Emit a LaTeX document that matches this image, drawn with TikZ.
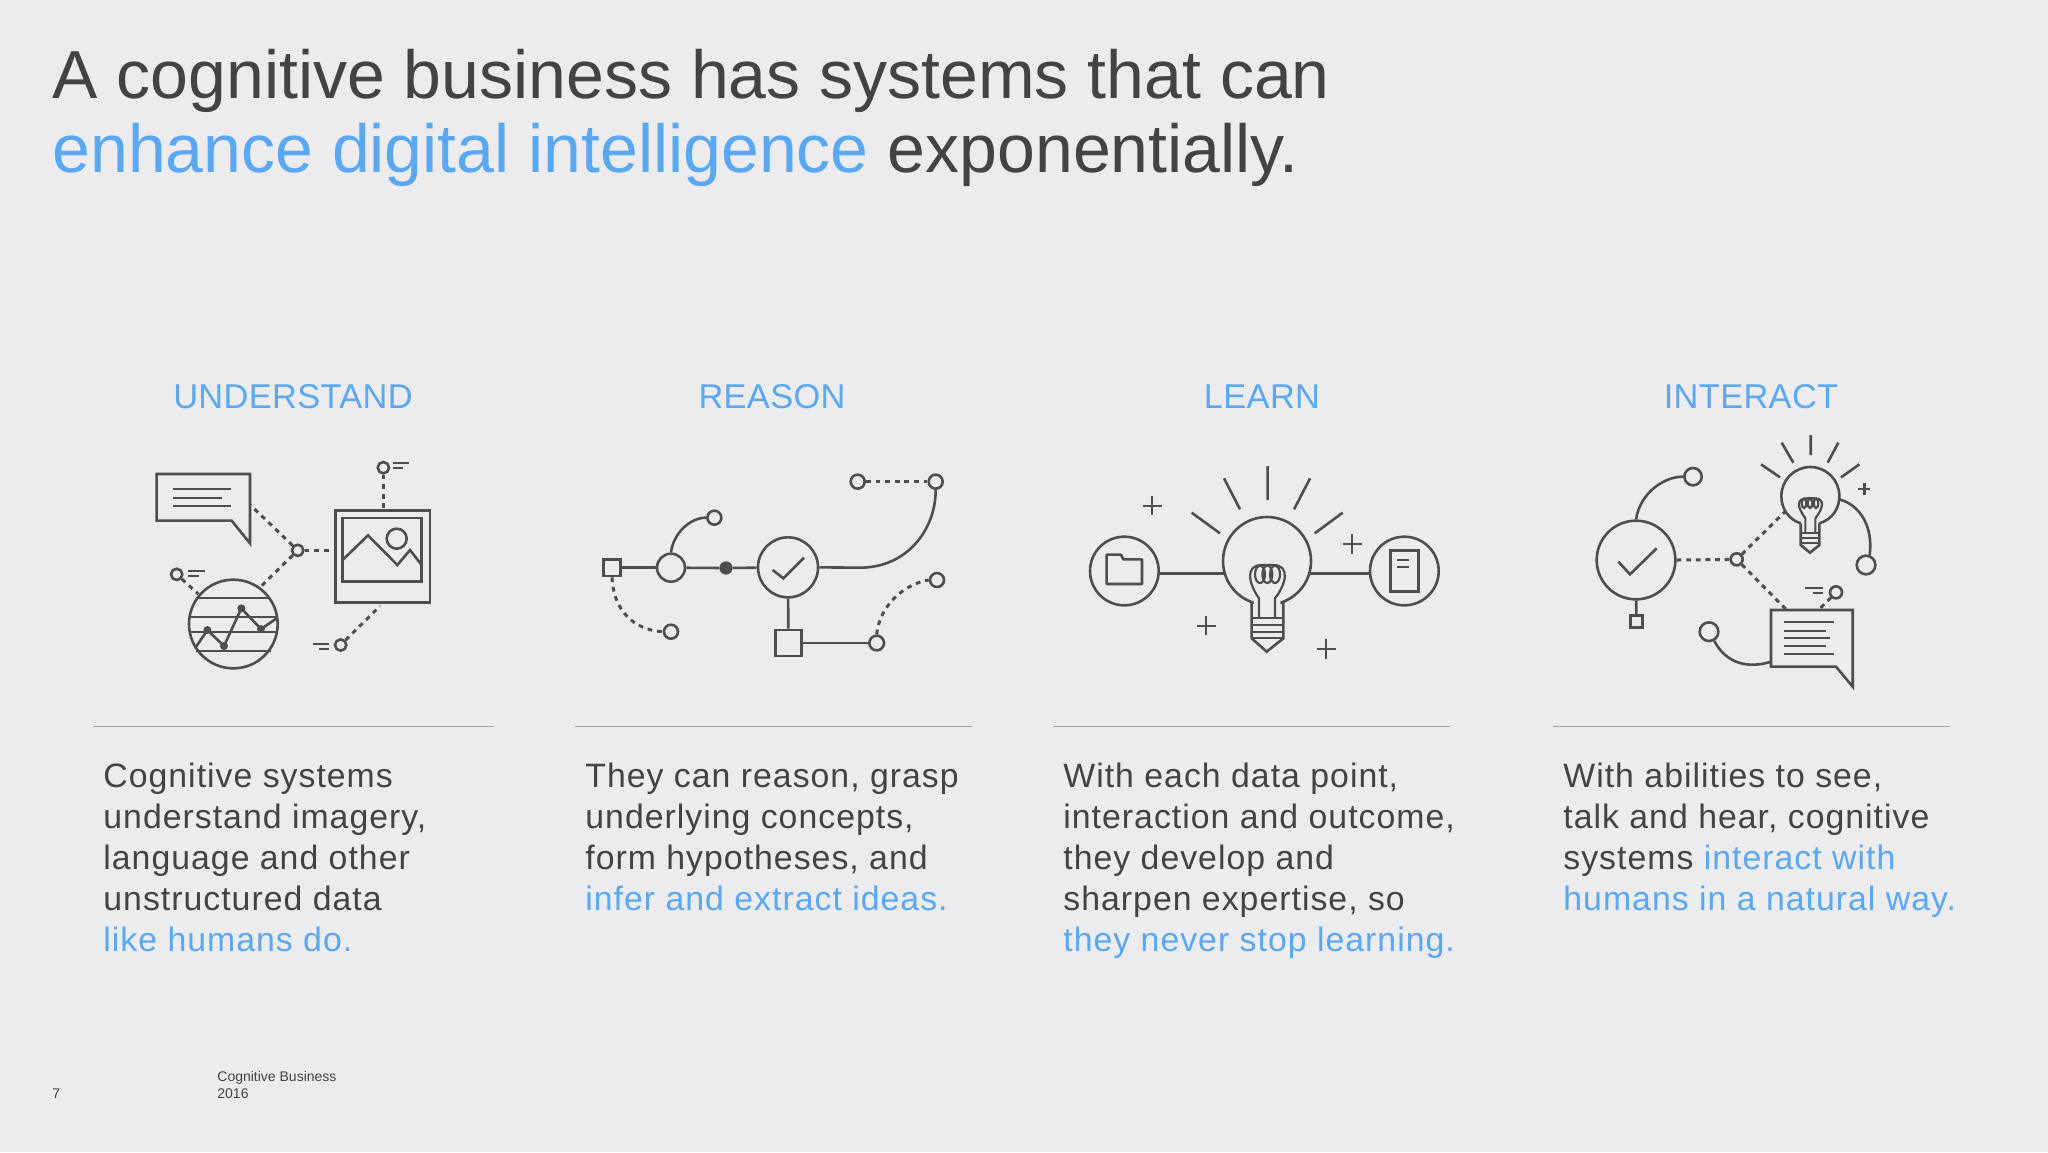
\documentclass[tikz,border=0pt]{standalone}
\usepackage{fontspec}
\setmainfont{Liberation Sans}
\newfontfamily\bodyfont[LetterSpace=3]{Liberation Sans}
\newfontfamily\headfont[LetterSpace=1]{Liberation Sans}
\definecolor{bgc}{HTML}{ECEBEE}
\definecolor{ink}{HTML}{434346}
\definecolor{blu}{HTML}{5AA8F2}
\definecolor{icn}{HTML}{4E4E50}
\definecolor{rul}{HTML}{A2A2A4}
\tikzset{
  titletext/.style={anchor=base west,inner sep=0pt,font=\fontsize{34}{39}\selectfont,text=ink},
  headtext/.style={anchor=center,inner sep=0pt,font=\headfont\fontsize{17.2}{21}\selectfont,text=blu},
  bodytext/.style={anchor=base west,inner sep=0pt,font=\bodyfont\fontsize{16.9}{20.4}\selectfont,text=ink,align=left},
  foottext/.style={anchor=base west,inner sep=0pt,font=\fontsize{7}{8.5}\selectfont,text=ink,align=left},
  iconline/.style={draw=icn,line width=1.3pt},
  dashline/.style={draw=icn,line width=1.5pt,dash pattern=on 2.4pt off 2.4pt},
  thinline/.style={draw=icn,line width=1.1pt},
  ring/.style={circle,draw=icn,line width=1.3pt,inner sep=0pt,minimum size=#1*.16667pt},
  dotc/.style={circle,fill=icn,draw=none,inner sep=0pt,minimum size=#1*.16667pt},
  rulerline/.style={draw=rul,line width=.8pt},
  zoomed/.style={shift={#1},x=.16667pt,y=-.16667pt},
}
\begin{document}
\begin{tikzpicture}[x=.5pt,y=-.5pt]
\fill[bgc] (0,0) rectangle (2048,1152);
\useasboundingbox (0,0) rectangle (2048,1152);
\node[titletext] (t1) at (52,98) {A cognitive business has systems that can};
\node[titletext] (t2) at (52,172) {\textcolor{blu}{enhance digital intelligence} exponentially.};
\node[headtext] (h1) at (293,397) {UNDERSTAND};
\node[headtext] (h2) at (772,397) {REASON};
\node[headtext] (h3) at (1262,397) {LEARN};
\node[headtext] (h4) at (1751,397) {INTERACT};
\draw[rulerline] (93,726.5) -- (494,726.5);
\draw[rulerline] (575,726.5) -- (972,726.5);
\draw[rulerline] (1053,726.5) -- (1450,726.5);
\draw[rulerline] (1553,726.5) -- (1950,726.5);
\node[bodytext] (b1) at (103,951) {Cognitive systems\\understand imagery,\\language and other\\unstructured data\\\textcolor{blu}{like humans do.}};
\node[bodytext] (b2) at (585,910) {They can reason, grasp\\underlying concepts,\\form hypotheses, and\\\textcolor{blu}{infer and extract ideas.}};
\node[bodytext] (b3) at (1063,951) {With each data point,\\interaction and outcome,\\they develop and\\sharpen expertise, so\\\textcolor{blu}{they never stop learning.}};
\node[bodytext] (b4) at (1563,910) {With abilities to see,\\talk and hear, cognitive\\systems \textcolor{blu}{interact with}\\\textcolor{blu}{humans in a natural way.}};
\node[foottext] (f1) at (52,1098) {7};
\node[foottext] (f2) at (217,1098) {Cognitive Business\\2016};

% ---- UNDERSTAND
\begin{scope}[zoomed={(130,430)}]
\draw[iconline,line join=miter] (80,132)--(360,132)--(360,340)--(305,272)--(80,272)--cycle;
\draw[thinline] (128,176)--(302,176) (128,204)--(275,204) (128,228)--(302,228);
\node[ring=34] (a1) at (503,361) {};
\coordinate (a2) at (362,226);
\coordinate (a3) at (605,361);
\coordinate (a4) at (392,470);
\draw[dashline] (a1)--(a2);
\draw[dashline] (a1)--(a3);
\draw[dashline] (a1)--(a4);
\draw[iconline] (616,242) rectangle (900,517);
\draw[iconline] (638,264) rectangle (875,455);
\node[ring=60] (a5) at (800,326) {};
\draw[iconline] (640,388)--(714,316)--(802,405)--(840,360)--(875,405);
\node[ring=34] (a6) at (760,113) {};
\coordinate (a7) at (760,240);
\draw[dashline] (a6)--(a7);
\draw[thinline] (788,98)--(836,98) (788,114)--(818,114);
\node[ring=34] (a8) at (632,645) {};
\coordinate (a9) at (750,528);
\draw[dashline] (a8)--(a9);
\draw[thinline] (550,641)--(598,641) (568,656)--(598,656);
\node[ring=266] (a10) at (310,582) {};
\draw[thinline] (205,505)--(415,505) (183,560)--(437,560) (178,607)--(440,607) (198,664)--(422,664);
\draw[iconline] (195,655)--(232,600)--(282,648)--(334,535)--(393,597)--(440,565);
\node[dotc=24] (d1) at (232,600) {};
\node[dotc=24] (d2) at (282,648) {};
\node[dotc=24] (d3) at (334,535) {};
\node[dotc=24] (d4) at (393,597) {};
\node[ring=34] (a11) at (140,433) {};
\coordinate (a12) at (205,492);
\draw[dashline] (a11)--(a12);
\draw[thinline] (175,423)--(226,423) (175,438)--(207,438);
\end{scope}

% ---- REASON
\begin{scope}[zoomed={(590,450)}]
\node[draw=icn,line width=1.3pt,minimum size=50*.16667pt,inner sep=0pt] (r1) at (66,353) {};
\node[ring=84] (r2) at (243,353) {};
\node[dotc=40] (r3) at (408,354) {};
\node[ring=180] (r4) at (594,352) {};
\draw[iconline] (r1)--(r2);
\draw[iconline] (r2)--(r3);
\draw[iconline] (r3)--(r4);
\draw[iconline] (548,360)--(580,385)--(642,323);
\node[ring=42] (r5) at (373,203) {};
\draw[iconline] (r2.north) .. controls (250,250) and (300,203) .. (r5.west);
\node[ring=42] (r6) at (1037,95) {};
\node[ring=42] (r7) at (803,95) {};
\draw[dashline] (r7)--(r6);
\draw[iconline] (r4.east) -- (810,353) .. controls (950,353) and (1037,240) .. (r6.south);
\node[draw=icn,line width=1.3pt,minimum size=78*.16667pt,inner sep=0pt] (r8) at (595,579) {};
\draw[iconline] (r4)--(r8);
\node[ring=44] (r9) at (860,579) {};
\draw[iconline] (r8)--(r9);
\node[ring=42] (r10) at (1041,390) {};
\draw[dashline] (r9.north) .. controls (870,460) and (950,400) .. (r10.west);
\node[ring=42] (r11) at (243,545) {};
\draw[dashline] (r1.south) .. controls (70,480) and (130,540) .. (r11.west);
\end{scope}

% ---- LEARN
\begin{scope}[zoomed={(1070,450)}]
\node[ring=206] (l1) at (163,363) {};
\draw[iconline,line join=round] (110,402)--(110,314)--(153,314)--(160,328)--(216,328)--(216,402)--cycle;
\node[ring=206] (l2) at (1003,363) {};
\draw[iconline] (962,302) rectangle (1046,424);
\draw[thinline] (980,330)--(1018,330) (980,352)--(1018,352);
\coordinate (l3) at (462,371);
\coordinate (l4) at (720,371);
\draw[iconline] (l1.east |- l3)--(l3);
\draw[iconline] (l4)--(l2.west |- l4);
\draw[iconline] (550,458) .. controls (495,440) and (459,390) .. (459,333) .. controls (459,260) and (518,201) .. (591,201) .. controls (664,201) and (723,260) .. (723,333) .. controls (723,390) and (687,440) .. (632,458);
\draw[iconline] (632,458) -- (640,460) -- (640,565) -- (590,605) -- (545,565) -- (545,460) -- (550,458);
\draw[thinline] (567,505)--(567,445) .. controls (535,400) and (525,345) .. (575,345) -- (610,345) .. controls (660,345) and (650,400) .. (615,445) -- (615,505);
\draw[thinline] (570,373) ellipse [x radius=15,y radius=26] (592,373) ellipse [x radius=15,y radius=26] (615,373) ellipse [x radius=15,y radius=26];
\draw[iconline] (593,48)--(593,150) (462,85)--(510,178) (720,85)--(672,178) (365,188)--(450,250) (818,188)--(734,250);
\draw[thinline] (545,505)--(640,505) (545,525)--(640,525) (545,545)--(640,545) (545,565)--(640,565);
\draw[thinline] (218,167)--(276,167) (247,138)--(247,196);
\draw[thinline] (818,282)--(876,282) (847,253)--(847,311);
\draw[thinline] (380,527)--(438,527) (409,498)--(409,556);
\draw[thinline] (740,597)--(798,597) (769,568)--(769,626);
\end{scope}

% ---- INTERACT
\begin{scope}[zoomed={(1580,420)}]
\node[ring=236] (i1) at (168,420) {};
\draw[iconline] (115,425)--(150,463)--(230,385);
\node[draw=icn,line width=1.3pt,minimum size=36*.16667pt,inner sep=0pt] (i2) at (169,604) {};
\draw[iconline] (i1)--(i2);
\node[ring=52] (i3) at (339,170) {};
\draw[iconline] (i1.north) .. controls (180,220) and (250,170) .. (i3.west);
\node[ring=36] (i4) at (470,418) {};
\coordinate (i5) at (615,275);
\coordinate (i6) at (620,570);
\draw[dashline] (i1.east)--(i4);
\draw[dashline] (i4)--(i5);
\draw[dashline] (i4)--(i6);
\draw[iconline] (662,310) .. controls (625,298) and (604,266) .. (604,228) .. controls (604,180) and (643,141) .. (691,141) .. controls (739,141) and (778,180) .. (778,228) .. controls (778,266) and (757,298) .. (718,310);
\draw[iconline] (662,310)--(662,375)--(690,398)--(718,375)--(718,310);
\draw[iconline] (692,45)--(692,105) (605,68)--(640,128) (775,68)--(743,128) (543,133)--(600,172) (838,133)--(783,172);
\draw[thinline] (676,340)--(676,295) .. controls (650,260) and (650,235) .. (680,235) -- (703,235) .. controls (733,235) and (733,260) .. (706,295) -- (706,340);
\draw[thinline] (672,250) ellipse [x radius=7,y radius=14] (690,250) ellipse [x radius=7,y radius=14] (708,250) ellipse [x radius=7,y radius=14];
\draw[thinline] (662,340)--(718,340) (662,355)--(718,355) (662,370)--(718,370);
\draw[iconline] (835,207)--(871,207) (853,189)--(853,225);
\node[ring=56] (i7) at (858,435) {};
\draw[iconline] (778,238) .. controls (840,255) and (880,320) .. (i7.70);
\draw[iconline,line join=miter] (573,570)--(818,570)--(818,800)--(768,740)--(573,740)--cycle;
\draw[thinline] (612,607)--(762,607) (612,632)--(738,632) (612,655)--(750,655) (612,678)--(738,678) (612,702)--(762,702);
\node[ring=56] (i8) at (387,635) {};
\draw[iconline] (573,725) .. controls (510,745) and (440,735) .. (i8.-60);
\node[ring=36] (i9) at (768,517) {};
\coordinate (i10) at (715,570);
\draw[dashline] (i9)--(i10);
\draw[thinline] (675,503)--(728,503) (698,520)--(728,520);
\end{scope}
\end{tikzpicture}
\end{document}
